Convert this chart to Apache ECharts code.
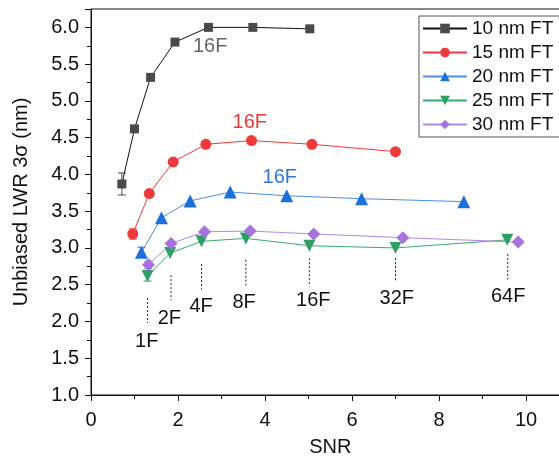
<!DOCTYPE html>
<html>
<head>
<meta charset="utf-8">
<script src="https://cdn.jsdelivr.net/npm/echarts@6/dist/echarts.min.js"></script>
<style>html,body{margin:0;padding:0;background:#fff}#c{width:559px;height:459px}</style>
</head>
<body>
<div id="c"></div>
<script>
// ---- data ----
var snr10 = [0.71, 1.00, 1.37, 1.93, 2.70, 3.72, 5.03];
var lwr10 = [3.87, 4.62, 5.32, 5.80, 6.00, 6.00, 5.98];
var snr15 = [0.96, 1.34, 1.89, 2.64, 3.69, 5.08, 7.00];
var lwr15 = [3.19, 3.74, 4.17, 4.41, 4.46, 4.41, 4.31];
var snr20 = [1.16, 1.62, 2.28, 3.20, 4.50, 6.22, 8.57];
var lwr20 = [2.94, 3.41, 3.64, 3.76, 3.71, 3.67, 3.63];
var snr25 = [1.30, 1.82, 2.54, 3.56, 5.02, 7.00, 9.57];
var lwr25 = [2.62, 2.93, 3.09, 3.13, 3.03, 3.00, 3.11];
var snr30 = [1.32, 1.84, 2.61, 3.66, 5.12, 7.17, 9.82];
var lwr30 = [2.77, 3.06, 3.22, 3.23, 3.19, 3.14, 3.08];
// error bars: [snr, value, half-width, series index]
var errorBars = [
  [0.71, 3.87, 0.15, 0], [1.00, 4.62, 0.04, 0],
  [0.96, 3.19, 0.07, 1], [1.16, 2.94, 0.07, 2],
  [1.30, 2.62, 0.07, 3], [1.32, 2.77, 0.05, 4]
];
var seriesNames = ['10 nm FT', '15 nm FT', '20 nm FT', '25 nm FT', '30 nm FT'];
// frame annotations
var frameNames = ['1F', '2F', '4F', '8F', '16F', '32F', '64F'];
var frameLineX = [1.30, 1.84, 2.54, 3.56, 5.02, 7.00, 9.58];
var frameLineTop = [2.32, 2.63, 2.78, 2.84, 2.86, 2.86, 2.92];
var frameLineBottom = [1.98, 2.29, 2.43, 2.49, 2.51, 2.54, 2.57];
var frameLabelX = [1.28, 1.80, 2.53, 3.52, 5.11, 7.03, 9.59];
var frameLabelY = [1.73, 2.04, 2.21, 2.26, 2.28, 2.31, 2.34];
// series-level "16F" labels: [x, y, series index]
var seriesLabels = [[2.74, 5.74, 0], [3.65, 4.70, 1], [4.34, 3.96, 2]];
var xTicks = [0, 2, 4, 6, 8, 10];
var yTicks = [1.0, 1.5, 2.0, 2.5, 3.0, 3.5, 4.0, 4.5, 5.0, 5.5, 6.0];

var FONT = 'Liberation Sans, Arial, sans-serif';
var markerColors = ['#4a4a4a', '#ee3a3c', '#1e6fdc', '#2e9f62', '#a872dc'];
var lineColors = ['#111111', '#ee3a3c', '#4a8fe6', '#3aaa6e', '#b288e2'];
var labelColors = ['#666666', '#ee3a3c', '#2a78de'];
var symbols = ['rect', 'circle', 'triangle', 'triangle', 'diamond'];
var symSizes = [9, 11, 13, 12, 13];
var symRot = [0, 0, 0, 180, 0];

function pairs(xs, ys) { return xs.map(function (x, i) { return [x, ys[i]]; }); }
var allX = [snr10, snr15, snr20, snr25, snr30];
var allY = [lwr10, lwr15, lwr20, lwr25, lwr30];

var series = [];
series.push({
  type: 'custom', z: 1, silent: true,
  data: errorBars,
  renderItem: function (params, api) {
    var x = api.value(0), v = api.value(1), e = api.value(2), s = api.value(3);
    var top = api.coord([x, v + e]), bot = api.coord([x, v - e]);
    var c = markerColors[s], w = 4;
    return { type: 'group', children: [
      { type: 'line', shape: { x1: top[0], y1: top[1], x2: bot[0], y2: bot[1] }, style: { stroke: c, lineWidth: 1 } },
      { type: 'line', shape: { x1: top[0] - w, y1: top[1], x2: top[0] + w, y2: top[1] }, style: { stroke: c, lineWidth: 1 } },
      { type: 'line', shape: { x1: bot[0] - w, y1: bot[1], x2: bot[0] + w, y2: bot[1] }, style: { stroke: c, lineWidth: 1 } }
    ]};
  }
});
for (var i = 0; i < 5; i++) {
  series.push({
    name: seriesNames[i], type: 'line', z: 3,
    data: pairs(allX[i], allY[i]),
    symbol: symbols[i], symbolSize: symSizes[i], symbolRotate: symRot[i],
    showAllSymbol: true,
    lineStyle: { color: lineColors[i], width: 1 },
    itemStyle: { color: markerColors[i], borderWidth: 0 },
    emphasis: { disabled: true },
    animation: false
  });
}
series.push({
  type: 'custom', z: 2, silent: true,
  data: frameLineX.map(function (x, i) { return [x, frameLineTop[i], frameLineBottom[i]]; }),
  renderItem: function (params, api) {
    var a = api.coord([api.value(0), api.value(1)]), b = api.coord([api.value(0), api.value(2)]);
    return { type: 'line', shape: { x1: a[0], y1: a[1], x2: b[0], y2: b[1] },
      style: { stroke: '#222', lineWidth: 1, lineDash: [2, 2] } };
  }
});
series.push({
  type: 'custom', z: 4, silent: true,
  data: frameLabelX.map(function (x, i) { return [x, frameLabelY[i], i]; }),
  renderItem: function (params, api) {
    var p = api.coord([api.value(0), api.value(1)]);
    return { type: 'text', x: p[0], y: p[1], style: {
      text: frameNames[api.value(2)], fill: '#111', font: '20px ' + FONT,
      align: 'center', verticalAlign: 'middle' } };
  }
});
series.push({
  type: 'custom', z: 4, silent: true,
  data: seriesLabels,
  renderItem: function (params, api) {
    var p = api.coord([api.value(0), api.value(1)]);
    return { type: 'text', x: p[0], y: p[1], style: {
      text: '16F', fill: labelColors[api.value(2)], font: '20px ' + FONT,
      align: 'center', verticalAlign: 'middle' } };
  }
});

var chart = echarts.init(document.getElementById('c'), null, { renderer: 'canvas' });
chart.setOption({
  animation: false,
  backgroundColor: '#fff',
  textStyle: { fontFamily: FONT },
  grid: { left: 91, top: 9, bottom: 64, right: -10.5, show: true, borderColor: '#111', borderWidth: 1,
    containLabel: false, outerBoundsMode: 'none' },
  legend: {
    data: seriesNames, left: 419, top: 16, orient: 'vertical',
    padding: [3, 8, 3, 3], itemGap: 5, itemWidth: 44, itemHeight: 12,
    borderColor: '#555', borderWidth: 1, backgroundColor: '#fff',
    textStyle: { fontSize: 19, color: '#111', fontFamily: FONT },
    selectedMode: false
  },
  xAxis: {
    type: 'value', min: 0, max: 11, interval: 2,
    name: 'SNR', nameLocation: 'middle', nameGap: 42,
    nameTextStyle: { fontSize: 20, color: '#111', fontFamily: FONT },
    axisLine: { show: true, lineStyle: { color: '#111', width: 1 } },
    axisTick: { show: true, inside: false, length: 6, lineStyle: { color: '#111' } },
    minorTick: { show: true, splitNumber: 2, length: 4, lineStyle: { color: '#111' } },
    axisLabel: { fontSize: 20, color: '#111', margin: 15, showMaxLabel: false, fontFamily: FONT,
      formatter: function (v) { return xTicks.indexOf(v) >= 0 ? String(v) : ''; } },
    splitLine: { show: false }
  },
  yAxis: {
    type: 'value', min: 1, max: 6.25, interval: 0.5,
    name: 'Unbiased LWR 3σ (nm)', nameLocation: 'middle', nameGap: 60,
    nameTextStyle: { fontSize: 20, color: '#111', fontFamily: FONT },
    axisLine: { show: true, lineStyle: { color: '#111', width: 1 } },
    axisTick: { show: true, inside: false, length: 6, lineStyle: { color: '#111' } },
    minorTick: { show: true, splitNumber: 2, length: 4, lineStyle: { color: '#111' } },
    axisLabel: { fontSize: 20, color: '#111', margin: 12, showMaxLabel: false, fontFamily: FONT,
      formatter: function (v) {
        for (var k = 0; k < yTicks.length; k++) if (Math.abs(yTicks[k] - v) < 1e-6) return v.toFixed(1);
        return '';
      } },
    splitLine: { show: false }
  },
  series: series
});
</script>
</body>
</html>
